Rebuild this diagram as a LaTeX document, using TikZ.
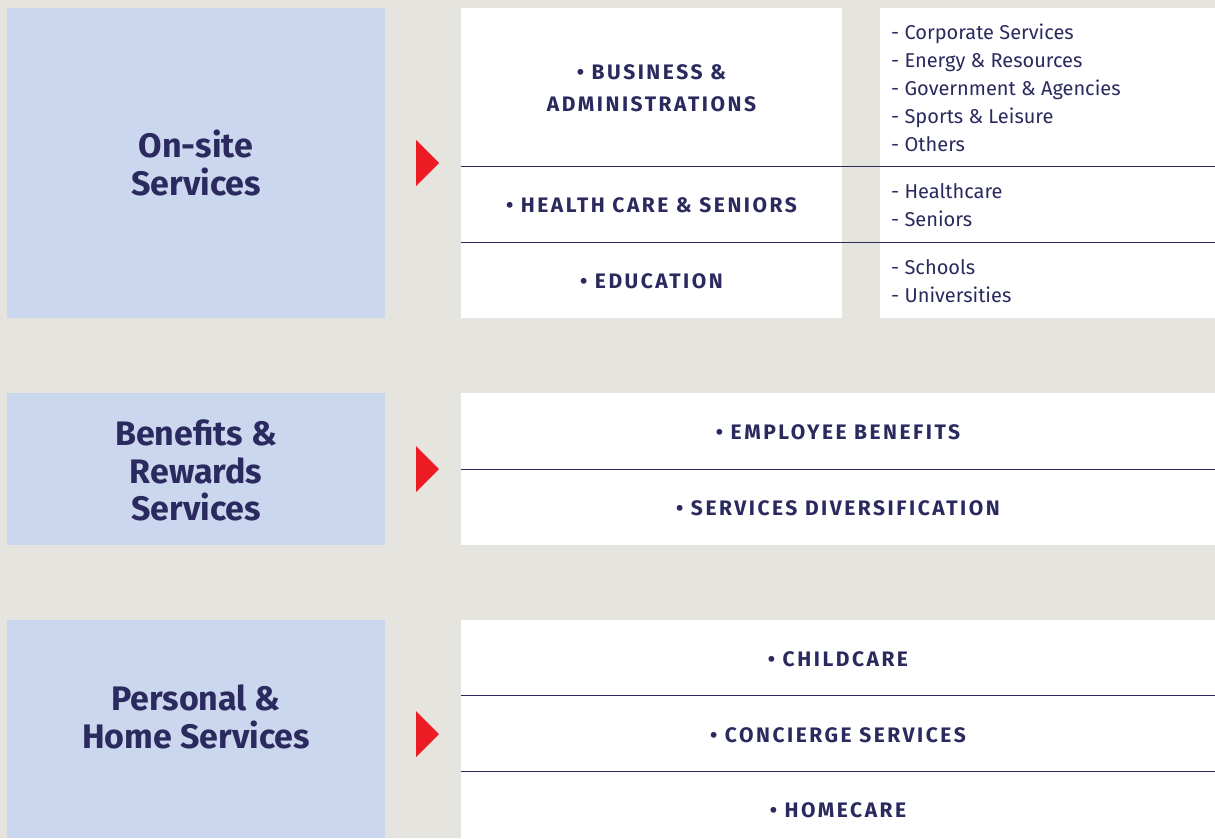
\documentclass[tikz,border=0pt]{standalone}
\usepackage{fontspec}
\setmainfont{Fira Sans}
\newfontfamily\capsfont[LetterSpace=12]{Fira Sans}
\definecolor{bgcol}{HTML}{E5E4DF}
\definecolor{catblue}{HTML}{CBD7EE}
\definecolor{navy}{HTML}{2B2A5F}
\definecolor{arrowred}{HTML}{ED1C24}
\begin{document}
\begin{tikzpicture}[x=1pt,y=-1pt]
\tikzset{
  boxbase/.style={anchor=north west, inner sep=0pt, outer sep=0pt, draw=none},
  cat/.style={boxbase, fill=catblue},
  panel/.style={boxbase, fill=white},
  sep/.style={draw=navy, line width=1pt},
  title/.style={text=navy, font=\fontsize{34}{38}\selectfont\bfseries, anchor=base, inner sep=0pt},
  head/.style={text=navy, font=\capsfont\fontsize{21}{31}\selectfont\bfseries, anchor=base, inner sep=0pt},
  item/.style={text=navy, font=\fontsize{20}{28}\selectfont, anchor=base west, inner sep=0pt},
  marker/.style={fill=arrowred}
}
% background
\fill[bgcol] (0,0) rectangle (1215,838);
\useasboundingbox (0,0) rectangle (1215,838);

% ---------- Section 1 ----------
\node[cat, minimum width=378pt, minimum height=310pt] (c1) at (7,8) {};
\node[panel, minimum width=381pt, minimum height=310pt] (p1) at (461,8) {};
\node[panel, minimum width=335pt, minimum height=310pt] (q1) at (880,8) {};
\fill[marker] (416,140) -- (439,163) -- (416,186) -- cycle;
\coordinate (l1a) at (461,166); \coordinate (l1b) at (1215,166);
\coordinate (l2a) at (461,242); \coordinate (l2b) at (1215,242);
\draw[sep] (l1a) -- (l1b);
\draw[sep] (l2a) -- (l2b);

\node[title] (t1a) at (196,157) {On-site};
\node[title] (t1b) at (196,195) {Services};

\node[head] (h1a) at (651.5,79) {• BUSINESS \&};
\node[head] (h1b) at (651.5,111) {ADMINISTRATIONS};
\node[head] (h2) at (651.5,212) {• HEALTH CARE \& SENIORS};
\node[head] (h3) at (651.5,288) {• EDUCATION};

\node[item] (i1) at (891,39) {- Corporate Services};
\node[item] (i2) at (891,67) {- Energy \& Resources};
\node[item] (i3) at (891,95) {- Government \& Agencies};
\node[item] (i4) at (891,123) {- Sports \& Leisure};
\node[item] (i5) at (891,151) {- Others};
\node[item] (i6) at (891,198) {- Healthcare};
\node[item] (i7) at (891,226) {- Seniors};
\node[item] (i8) at (891,274) {- Schools};
\node[item] (i9) at (891,302) {- Universities};

% ---------- Section 2 ----------
\node[cat, minimum width=378pt, minimum height=152pt] (c2) at (7,393) {};
\node[panel, minimum width=754pt, minimum height=152pt] (p2) at (461,393) {};
\fill[marker] (416,446) -- (439,469) -- (416,492) -- cycle;
\coordinate (l3a) at (461,469); \coordinate (l3b) at (1215,469);
\draw[sep] (l3a) -- (l3b);

\node[title] (t2a) at (196,445) {Benefits \&};
\node[title] (t2b) at (196,483) {Rewards};
\node[title] (t2c) at (196,520) {Services};

\node[head] (h4) at (838,439.5) {• EMPLOYEE BENEFITS};
\node[head] (h5) at (838,515.5) {• SERVICES DIVERSIFICATION};

% ---------- Section 3 ----------
\node[cat, minimum width=378pt, minimum height=218pt] (c3) at (7,620) {};
\node[panel, minimum width=754pt, minimum height=218pt] (p3) at (461,620) {};
\fill[marker] (416,711) -- (439,734) -- (416,757) -- cycle;
\coordinate (l4a) at (461,695.5); \coordinate (l4b) at (1215,695.5);
\coordinate (l5a) at (461,771.5); \coordinate (l5b) at (1215,771.5);
\draw[sep] (l4a) -- (l4b);
\draw[sep] (l5a) -- (l5b);

\node[title] (t3a) at (196,710) {Personal \&};
\node[title] (t3b) at (196,748) {Home Services};

\node[head] (h6) at (838,666.5) {• CHILDCARE};
\node[head] (h7) at (838,742.5) {• CONCIERGE SERVICES};
\node[head] (h8) at (838,817.5) {• HOMECARE};
\end{tikzpicture}
\end{document}
